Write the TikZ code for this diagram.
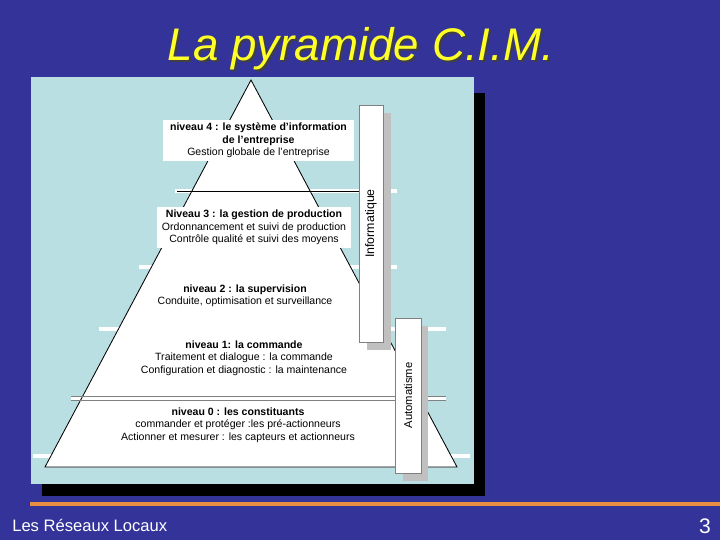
\documentclass[tikz,border=0pt]{standalone}
\usepackage{fontspec}
\setmainfont{Liberation Sans}
\definecolor{slideblue}{RGB}{51,51,153}
\definecolor{panelblue}{RGB}{185,223,227}
\definecolor{shadowgray}{RGB}{192,192,192}
\definecolor{lineorange}{RGB}{232,142,64}
\definecolor{titleyellow}{RGB}{255,255,40}

\begin{document}
\begin{tikzpicture}[
        x=0.025cm, y=-0.025cm,
        lvlbox/.style={rectangle, fill=white, inner sep=0pt, align=center, font=\fontsize{7.5}{8.9}\selectfont},
        lvltext/.style={align=center, inner sep=0pt, font=\fontsize{7.5}{8.9}\selectfont},
        sidebox/.style={rectangle, draw=gray, fill=white, line width=0.5pt, inner sep=0pt, rotate=90},
        sepbar/.style={white, line width=2.2pt},
        pyrline/.style={black, line width=0.6pt}
    ]

    % Slide background
    \fill[slideblue] (0,0) rectangle (720,540);
    \useasboundingbox (0,0) rectangle (720,540);

    % Title
    \node[anchor=base, text=black!75, font=\fontsize{32.5}{36}\selectfont\itshape] (titleshadow) at (363,62) {La pyramide C.I.M.};
    \node[anchor=base, text=titleyellow, font=\fontsize{32.5}{36}\selectfont\itshape] (title) at (361,60) {La pyramide C.I.M.};

    % Panel with its shadow
    \fill[black] (42,93) rectangle (485,496);
    \fill[panelblue] (31,77) rectangle (474,484);

    % Level separators behind the pyramid
    \draw[sepbar] (175,191) -- (397,191);
    \draw[sepbar] (139,267) -- (397,267);
    \draw[sepbar] (99,329) -- (446,329);
    \draw[sepbar] (71,398) -- (446,398);
    \draw[sepbar] (33,456) -- (470,456);

    % Pyramid
    \coordinate (apex) at (251,80);
    \coordinate (baseR) at (457,467);
    \coordinate (baseL) at (45,467);
    \draw[pyrline, fill=white] (apex) -- (baseR) -- (baseL) -- cycle;
    \draw[pyrline] (177,191) -- (362,191);
    \draw[gray, line width=0.5pt] (71,396) -- (446,396);
    \draw[gray, line width=0.5pt] (71,400) -- (446,400);

    % Levels
    \node[lvlbox, minimum width=4.775cm, minimum height=1.025cm] (lvl4) at (258.5,140.5)
        {\textbf{niveau 4 : le système d'information}\\\textbf{de l'entreprise}\\Gestion globale de l'entreprise};
    \node[lvlbox, minimum width=4.85cm, minimum height=1.025cm] (lvl3) at (254,227.5)
        {\textbf{Niveau 3 : la gestion de production}\\Ordonnancement et suivi de production\\Contrôle qualité et suivi des moyens};
    \node[lvltext] (lvl2) at (245,296)
        {\textbf{niveau 2 : la supervision}\\Conduite, optimisation et surveillance};
    \node[lvltext] (lvl1) at (244,358)
        {\textbf{niveau 1: la commande}\\Traitement et dialogue : la commande\\Configuration et diagnostic : la maintenance};
    \node[lvltext] (lvl0) at (238,425)
        {\textbf{niveau 0 : les constituants}\\commander et protéger :les pré-actionneurs\\Actionner et mesurer : les capteurs et actionneurs};

    % Side boxes
    \fill[shadowgray] (367,113) rectangle (391,350);
    \node[sidebox, minimum width=5.925cm, minimum height=0.6cm, font=\fontsize{8.8}{10}\selectfont] (info) at (371,223.5) {Informatique};
    \fill[shadowgray] (403,326) rectangle (428,481);
    \node[sidebox, minimum width=3.875cm, minimum height=0.65cm, font=\fontsize{8}{10}\selectfont] (auto) at (408,395.5) {Automatisme};

    % Footer
    \draw[lineorange, line width=2.2pt] (30,504) -- (720,504);
    \node[anchor=base west, inner sep=0pt, text=white, font=\fontsize{11.8}{13}\selectfont] (footer) at (12,531) {Les Réseaux Locaux};
    \node[anchor=base east, inner sep=0pt, text=white, font=\fontsize{15}{17}\selectfont] (page) at (711,533) {3};

\end{tikzpicture}
\end{document}
